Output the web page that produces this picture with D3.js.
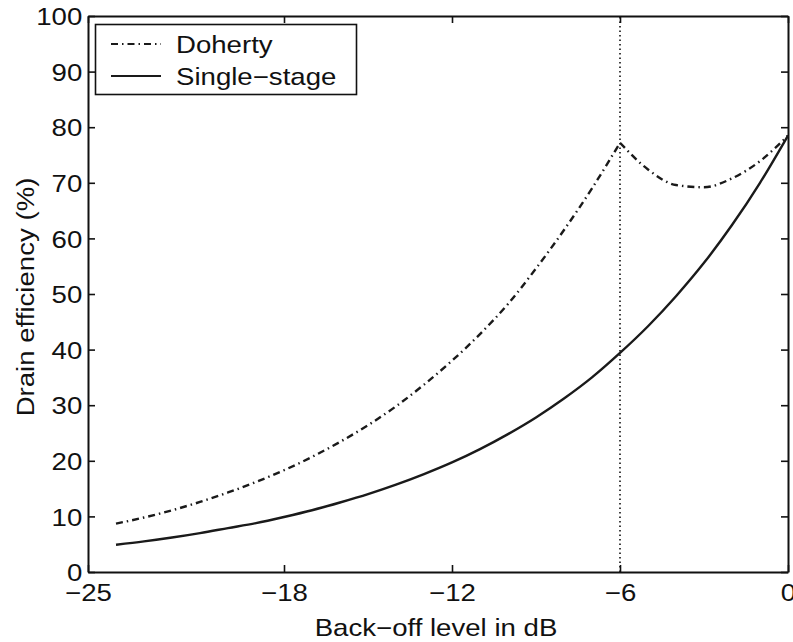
<!DOCTYPE html>
<html>
<head>
<meta charset="utf-8">
<script src="https://cdn.jsdelivr.net/npm/d3@7"></script>
<style>
  html, body { margin: 0; padding: 0; background: #fff; }
  svg text { font-family: "Liberation Sans", Arial, Helvetica, sans-serif; fill: #111; }
</style>
</head>
<body>
<svg id="chart" width="793" height="642"></svg>
<script>
// Back-off level (dB) sampled every 1 dB
const backoff = [-24, -23, -22, -21, -20, -19, -18, -17, -16, -15, -14, -13,
                 -12, -11, -10, -9, -8, -7, -6, -5, -4, -3, -2, -1, 0];

// Drain efficiency (%) of the Doherty amplifier
const doherty = [8.7, 9.8, 11.1, 12.6, 14.3, 16.2, 18.3, 20.7, 23.4, 26.4, 29.8, 33.7,
                 38.0, 42.8, 48.2, 54.6, 61.5, 69.0, 77.2, 72.4, 69.6, 69.2, 70.8, 73.9, 78.5];

// Drain efficiency (%) of the single-stage amplifier
const single = [4.9, 5.5, 6.2, 7.0, 7.9, 8.8, 9.9, 11.1, 12.5, 14.0, 15.7, 17.6,
                19.7, 22.1, 24.8, 27.8, 31.2, 35.0, 39.4, 44.2, 49.6, 55.6, 62.4, 70.0, 78.5];

// Transition point where the peaking amplifier turns on
const transitionDb = -6;

const xTicks = [-25, -18, -12, -6, 0];
const yTicks = [0, 10, 20, 30, 40, 50, 60, 70, 80, 90, 100];

const svg = d3.select("#chart");
const m = { left: 88, right: 5, top: 16, bottom: 70 };
const W = 793, H = 642;

const x = d3.scaleLinear().domain([-25, 0]).range([m.left, W - m.right]);
const y = d3.scaleLinear().domain([0, 100]).range([H - m.bottom, m.top]);

const fontSize = 24;
const stretch = 1.15;          // wide Helvetica-like lettering
const tickLen = 7;
const axisColor = "#111";

// Place a horizontally widened text at (px, py)
function wideText(parent, px, py, str, anchor) {
  return parent.append("text")
    .attr("transform", `translate(${px},${py}) scale(${stretch},1)`)
    .attr("text-anchor", anchor || "start")
    .attr("font-size", fontSize)
    .text(str);
}

// Axes: ticks pointing inward on all four sides of the box
const gBottom = svg.append("g").attr("transform", `translate(0,${y(0)})`)
  .call(d3.axisBottom(x).tickValues(xTicks).tickSizeInner(-tickLen).tickSizeOuter(0)
        .tickPadding(12).tickFormat(d => d === 0 ? "0" : "\u2212" + Math.abs(d)));
const gTop = svg.append("g").attr("transform", `translate(0,${y(100)})`)
  .call(d3.axisTop(x).tickValues(xTicks).tickSizeInner(-tickLen).tickSizeOuter(0).tickFormat(""));
const gLeft = svg.append("g").attr("transform", `translate(${x(-25)},0)`)
  .call(d3.axisLeft(y).tickValues(yTicks).tickSizeInner(-tickLen).tickSizeOuter(0).tickPadding(5));
const gRight = svg.append("g").attr("transform", `translate(${x(0)},0)`)
  .call(d3.axisRight(y).tickValues(yTicks).tickSizeInner(-tickLen).tickSizeOuter(0).tickFormat(""));

[gBottom, gTop, gLeft, gRight].forEach(g => {
  g.select(".domain").attr("stroke", axisColor).attr("stroke-width", 2);
  g.selectAll(".tick line").attr("stroke", axisColor).attr("stroke-width", 1.6);
  g.selectAll(".tick text").attr("font-size", fontSize).attr("fill", "#111")
    .attr("font-family", "Liberation Sans, Arial, sans-serif")
    .attr("transform", `scale(${stretch},1)`);
});
gLeft.selectAll(".tick text").attr("dy", "0.36em");

// Axis titles
wideText(svg, (x(-25) + x(0)) / 2 - 2, 636, "Back\u2212off level in dB", "middle");
svg.append("text")
  .attr("transform", `translate(34,${(y(0) + y(100)) / 2 + 3}) rotate(-90) scale(${stretch},1)`)
  .attr("text-anchor", "middle").attr("font-size", fontSize)
  .text("Drain efficiency (%)");

// Vertical dotted marker at the transition point
svg.append("line")
  .attr("x1", x(transitionDb)).attr("x2", x(transitionDb))
  .attr("y1", y(0)).attr("y2", y(100))
  .attr("stroke", "#111").attr("stroke-width", 1.6)
  .attr("stroke-dasharray", "1.5,3");

const pts = (ys) => backoff.map((d, i) => [d, ys[i]]);
const line = d3.line().x(d => x(d[0])).y(d => y(d[1])).curve(d3.curveMonotoneX);

// Single-stage curve
svg.append("path")
  .attr("d", line(pts(single)))
  .attr("fill", "none").attr("stroke", "#1a1a1a").attr("stroke-width", 2.4);

// Doherty curve: two smooth pieces meeting in a cusp at the transition point
const dPts = pts(doherty);
const split = backoff.indexOf(transitionDb);
const dohertyDash = "7,4,1.5,4";
const dohertyPath = line(dPts.slice(0, split + 1)) + line(dPts.slice(split));
svg.append("path")
  .attr("d", dohertyPath)
  .attr("fill", "none").attr("stroke", "#1a1a1a").attr("stroke-width", 2.4)
  .attr("stroke-dasharray", dohertyDash);

// Legend
const lg = svg.append("g");
lg.append("rect").attr("x", 95.5).attr("y", 24.5).attr("width", 261).attr("height", 70)
  .attr("fill", "#fff").attr("stroke", "#111").attr("stroke-width", 1.6);
const legendItems = [
  { label: "Doherty", dash: dohertyDash, cy: 44 },
  { label: "Single\u2212stage", dash: null, cy: 76 }
];
legendItems.forEach(it => {
  lg.append("line").attr("x1", 111).attr("x2", 161).attr("y1", it.cy).attr("y2", it.cy)
    .attr("stroke", "#1a1a1a").attr("stroke-width", it.dash ? 2 : 1.8)
    .attr("stroke-dasharray", it.dash);
  wideText(lg, 176, it.cy, it.label).attr("dy", "0.36em");
});
</script>
</body>
</html>
